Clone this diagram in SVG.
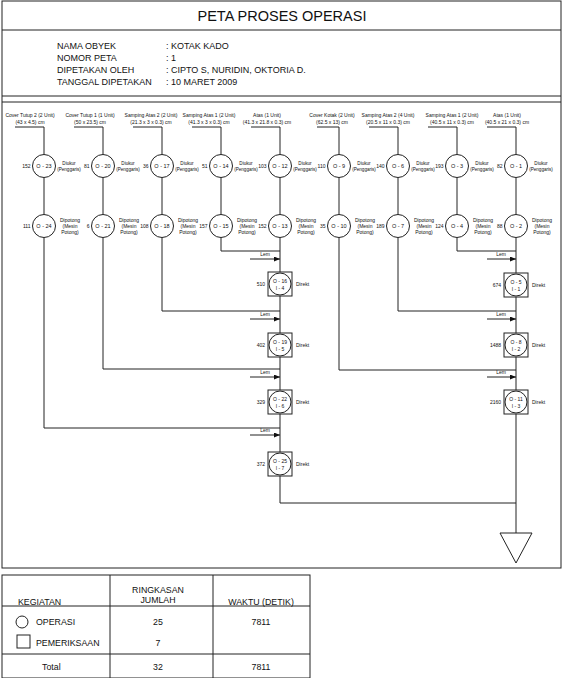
<svg xmlns="http://www.w3.org/2000/svg" width="564" height="678" viewBox="0 0 564 678">
<style>
.ln{stroke:#222;stroke-width:1;fill:none}
.nd{stroke:#222;stroke-width:1;fill:#fff}
text{font-family:"Liberation Sans",Arial,sans-serif;fill:#111}
.s5{font-size:5px}
.s46{font-size:4.6px}
.s55{font-size:5.5px}
.s9{font-size:9px}
.c{text-anchor:middle}
.r{text-anchor:end}
</style>
<defs>
<marker id="ah" markerUnits="userSpaceOnUse" markerWidth="6" markerHeight="5" refX="6" refY="2.5" orient="auto">
<path d="M0,0 L6,2.5 L0,5 z" fill="#111"/>
</marker>
</defs>
<rect x="0" y="0" width="564" height="678" fill="#fff"/>
<g id="frame">
<rect class="ln" x="2" y="1" width="559" height="567"/>
<line class="ln" x1="2" y1="30" x2="561" y2="30"/>
<line class="ln" x1="2" y1="96" x2="561" y2="96"/>
<line class="ln" x1="2" y1="102" x2="561" y2="102"/>
<text x="282" y="21" class="c" style="font-size:14.5px">PETA PROSES OPERASI</text>
<text class="s9" x="57" y="49">NAMA OBYEK</text>
<text class="s9" x="57" y="61">NOMOR PETA</text>
<text class="s9" x="57" y="73">DIPETAKAN OLEH</text>
<text class="s9" x="57" y="85">TANGGAL DIPETAKAN</text>
<text class="s9" x="166" y="49">:  KOTAK KADO</text>
<text class="s9" x="166" y="61">:  1</text>
<text class="s9" x="166" y="73">:  CIPTO S, NURIDIN, OKTORIA D.</text>
<text class="s9" x="166" y="85">:  10 MARET 2009</text>
</g>
<g id="connectors">
<path class="ln" d="M15,127H44V154.5M44,177.5V214.5M44,237.5V428H280"/>
<path class="ln" d="M74,127H103V154.5M103,177.5V214.5M103,237.5V369H280"/>
<path class="ln" d="M133,127H162V154.5M162,177.5V214.5M162,237.5V311H280"/>
<path class="ln" d="M192,127H221V154.5M221,177.5V214.5M221,237.5V251H280"/>
<path class="ln" d="M251,127H280V154.5M280,177.5V214.5M280,237.5V272M280,296V333M280,357V390M280,414V452M280,476V503H516"/>
<path class="ln" d="M317,127H339V154.5M339,177.5V214.5M339,237.5V370H516"/>
<path class="ln" d="M369,127H398V154.5M398,177.5V214.5M398,237.5V311H516"/>
<path class="ln" d="M428,127H457V154.5M457,177.5V214.5M457,237.5V251H516"/>
<path class="ln" d="M487,127H516V154.5M516,177.5V214.5M516,237.5V273M516,297V333M516,357V390M516,414V533"/>
<g class="ln" marker-end="url(#ah)">
<line x1="250" y1="259" x2="280" y2="259"/>
<line x1="250" y1="319" x2="280" y2="319"/>
<line x1="250" y1="377" x2="280" y2="377"/>
<line x1="250" y1="435" x2="280" y2="435"/>
<line x1="487" y1="259" x2="516" y2="259"/>
<line x1="487" y1="319" x2="516" y2="319"/>
<line x1="487" y1="377" x2="516" y2="377"/>
</g>
<g class="s5 c">
<text x="265" y="256">Lem</text>
<text x="265" y="316">Lem</text>
<text x="265" y="374">Lem</text>
<text x="265" y="432">Lem</text>
<text x="501" y="256">Lem</text>
<text x="501" y="316">Lem</text>
<text x="501" y="374">Lem</text>
</g>
</g>
<g id="headers" class="s5 c">
<text x="30" y="117">Cover Tutup 2 (2 Unit)</text><text x="30" y="124">(43 x 4.5) cm</text>
<text x="90" y="117">Cover Tutup 1 (1 Unit)</text><text x="90" y="124">(50 x 23.5) cm</text>
<text x="151" y="117">Samping Atas 2 (2 Unit)</text><text x="151" y="124">(21.3 x 3 x 0.3) cm</text>
<text x="209" y="117">Samping Atas 1 (2 Unit)</text><text x="209" y="124">(41.3 x 3 x 0.3) cm</text>
<text x="267" y="117">Atas (1 Unit)</text><text x="267" y="124">(41.3 x 21.8 x 0.3) cm</text>
<text x="332" y="117">Cover Kotak (2 Unit)</text><text x="332" y="124">(62.5 x 13) cm</text>
<text x="388" y="117">Samping Atas 2 (4 Unit)</text><text x="388" y="124">(20.5 x 11 x 0.3) cm</text>
<text x="452" y="117">Samping Atas 1 (2 Unit)</text><text x="452" y="124">(40.5 x 11 x 0.3) cm</text>
<text x="507" y="117">Atas (1 Unit)</text><text x="507" y="124">(40.5 x 21 x 0.3) cm</text>
</g>
<g id="O-23"><circle class="nd" cx="44" cy="166" r="11.5"/><text class="s55 c" x="44" y="168">O - 23</text><text class="s5 r" x="30.5" y="168">152</text><text class="s46 c" x="69" y="165">Diukur</text><text class="s46 c" x="69" y="171">(Penggaris)</text></g>
<g id="O-20"><circle class="nd" cx="103" cy="166" r="11.5"/><text class="s55 c" x="103" y="168">O - 20</text><text class="s5 r" x="89.5" y="168">81</text><text class="s46 c" x="128" y="165">Diukur</text><text class="s46 c" x="128" y="171">(Penggaris)</text></g>
<g id="O-17"><circle class="nd" cx="162" cy="166" r="11.5"/><text class="s55 c" x="162" y="168">O - 17</text><text class="s5 r" x="148.5" y="168">36</text><text class="s46 c" x="187" y="165">Diukur</text><text class="s46 c" x="187" y="171">(Penggaris)</text></g>
<g id="O-14"><circle class="nd" cx="221" cy="166" r="11.5"/><text class="s55 c" x="221" y="168">O - 14</text><text class="s5 r" x="207.5" y="168">51</text><text class="s46 c" x="246" y="165">Diukur</text><text class="s46 c" x="246" y="171">(Penggaris)</text></g>
<g id="O-12"><circle class="nd" cx="280" cy="166" r="11.5"/><text class="s55 c" x="280" y="168">O - 12</text><text class="s5 r" x="266.5" y="168">103</text><text class="s46 c" x="305" y="165">Diukur</text><text class="s46 c" x="305" y="171">(Penggaris)</text></g>
<g id="O-9"><circle class="nd" cx="339" cy="166" r="11.5"/><text class="s55 c" x="339" y="168">O - 9</text><text class="s5 r" x="325.5" y="168">110</text><text class="s46 c" x="364" y="165">Diukur</text><text class="s46 c" x="364" y="171">(Penggaris)</text></g>
<g id="O-6"><circle class="nd" cx="398" cy="166" r="11.5"/><text class="s55 c" x="398" y="168">O - 6</text><text class="s5 r" x="384.5" y="168">140</text><text class="s46 c" x="423" y="165">Diukur</text><text class="s46 c" x="423" y="171">(Penggaris)</text></g>
<g id="O-3"><circle class="nd" cx="457" cy="166" r="11.5"/><text class="s55 c" x="457" y="168">O - 3</text><text class="s5 r" x="443.5" y="168">193</text><text class="s46 c" x="482" y="165">Diukur</text><text class="s46 c" x="482" y="171">(Penggaris)</text></g>
<g id="O-1"><circle class="nd" cx="516" cy="166" r="11.5"/><text class="s55 c" x="516" y="168">O - 1</text><text class="s5 r" x="502.5" y="168">82</text><text class="s46 c" x="541" y="165">Diukur</text><text class="s46 c" x="541" y="171">(Penggaris)</text></g>
<g id="O-24"><circle class="nd" cx="44" cy="226" r="11.5"/><text class="s55 c" x="44" y="228">O - 24</text><text class="s5 r" x="30.5" y="228">111</text><text class="s5 c" x="70" y="222">Dipotong</text><text class="s5 c" x="70" y="228">(Mesin</text><text class="s5 c" x="70" y="234">Potong)</text></g>
<g id="O-21"><circle class="nd" cx="103" cy="226" r="11.5"/><text class="s55 c" x="103" y="228">O - 21</text><text class="s5 r" x="89.5" y="228">6</text><text class="s5 c" x="129" y="222">Dipotong</text><text class="s5 c" x="129" y="228">(Mesin</text><text class="s5 c" x="129" y="234">Potong)</text></g>
<g id="O-18"><circle class="nd" cx="162" cy="226" r="11.5"/><text class="s55 c" x="162" y="228">O - 18</text><text class="s5 r" x="148.5" y="228">108</text><text class="s5 c" x="188" y="222">Dipotong</text><text class="s5 c" x="188" y="228">(Mesin</text><text class="s5 c" x="188" y="234">Potong)</text></g>
<g id="O-15"><circle class="nd" cx="221" cy="226" r="11.5"/><text class="s55 c" x="221" y="228">O - 15</text><text class="s5 r" x="207.5" y="228">157</text><text class="s5 c" x="247" y="222">Dipotong</text><text class="s5 c" x="247" y="228">(Mesin</text><text class="s5 c" x="247" y="234">Potong)</text></g>
<g id="O-13"><circle class="nd" cx="280" cy="226" r="11.5"/><text class="s55 c" x="280" y="228">O - 13</text><text class="s5 r" x="266.5" y="228">152</text><text class="s5 c" x="306" y="222">Dipotong</text><text class="s5 c" x="306" y="228">(Mesin</text><text class="s5 c" x="306" y="234">Potong)</text></g>
<g id="O-10"><circle class="nd" cx="339" cy="226" r="11.5"/><text class="s55 c" x="339" y="228">O - 10</text><text class="s5 r" x="325.5" y="228">35</text><text class="s5 c" x="365" y="222">Dipotong</text><text class="s5 c" x="365" y="228">(Mesin</text><text class="s5 c" x="365" y="234">Potong)</text></g>
<g id="O-7"><circle class="nd" cx="398" cy="226" r="11.5"/><text class="s55 c" x="398" y="228">O - 7</text><text class="s5 r" x="384.5" y="228">189</text><text class="s5 c" x="424" y="222">Dipotong</text><text class="s5 c" x="424" y="228">(Mesin</text><text class="s5 c" x="424" y="234">Potong)</text></g>
<g id="O-4"><circle class="nd" cx="457" cy="226" r="11.5"/><text class="s55 c" x="457" y="228">O - 4</text><text class="s5 r" x="443.5" y="228">124</text><text class="s5 c" x="483" y="222">Dipotong</text><text class="s5 c" x="483" y="228">(Mesin</text><text class="s5 c" x="483" y="234">Potong)</text></g>
<g id="O-2"><circle class="nd" cx="516" cy="226" r="11.5"/><text class="s55 c" x="516" y="228">O - 2</text><text class="s5 r" x="502.5" y="228">88</text><text class="s5 c" x="542" y="222">Dipotong</text><text class="s5 c" x="542" y="228">(Mesin</text><text class="s5 c" x="542" y="234">Potong)</text></g>
<g id="O-16"><rect class="nd" x="268" y="272" width="24" height="24"/><circle class="nd" cx="280" cy="284" r="11"/><text class="s5 c" x="280" y="283">O - 16</text><text class="s5 c" x="280" y="289.5">I - 4</text><text class="s5 r" x="265" y="286">510</text><text class="s5" x="296" y="286">Direkt</text></g>
<g id="O-19"><rect class="nd" x="268" y="333" width="24" height="24"/><circle class="nd" cx="280" cy="345" r="11"/><text class="s5 c" x="280" y="344">O - 19</text><text class="s5 c" x="280" y="350.5">I - 5</text><text class="s5 r" x="265" y="347">402</text><text class="s5" x="296" y="347">Direkt</text></g>
<g id="O-22"><rect class="nd" x="268" y="390" width="24" height="24"/><circle class="nd" cx="280" cy="402" r="11"/><text class="s5 c" x="280" y="401">O - 22</text><text class="s5 c" x="280" y="407.5">I - 6</text><text class="s5 r" x="265" y="404">329</text><text class="s5" x="296" y="404">Direkt</text></g>
<g id="O-25"><rect class="nd" x="268" y="452" width="24" height="24"/><circle class="nd" cx="280" cy="464" r="11"/><text class="s5 c" x="280" y="463">O - 25</text><text class="s5 c" x="280" y="469.5">I - 7</text><text class="s5 r" x="265" y="466">372</text><text class="s5" x="296" y="466">Direkt</text></g>
<g id="O-5"><rect class="nd" x="504" y="273" width="24" height="24"/><circle class="nd" cx="516" cy="285" r="11"/><text class="s5 c" x="516" y="284">O - 5</text><text class="s5 c" x="516" y="290.5">I - 1</text><text class="s5 r" x="501" y="287">674</text><text class="s5" x="532" y="287">Direkt</text></g>
<g id="O-8"><rect class="nd" x="504" y="333" width="24" height="24"/><circle class="nd" cx="516" cy="345" r="11"/><text class="s5 c" x="516" y="344">O - 8</text><text class="s5 c" x="516" y="350.5">I - 2</text><text class="s5 r" x="501" y="347">1488</text><text class="s5" x="532" y="347">Direkt</text></g>
<g id="O-11"><rect class="nd" x="504" y="390" width="24" height="24"/><circle class="nd" cx="516" cy="402" r="11"/><text class="s5 c" x="516" y="401">O - 11</text><text class="s5 c" x="516" y="407.5">I - 3</text><text class="s5 r" x="501" y="404">2160</text><text class="s5" x="532" y="404">Direkt</text></g>
<g id="storage"><polygon class="nd" points="500,533 532,533 516,563"/></g>
<g id="summary">
<rect class="ln" x="2" y="575" width="308" height="103"/>
<line class="ln" x1="2" y1="606" x2="310" y2="606"/>
<line class="ln" x1="2" y1="654" x2="310" y2="654"/>
<line class="ln" x1="110" y1="575" x2="110" y2="678"/>
<line class="ln" x1="213" y1="575" x2="213" y2="678"/>
<text style="font-size:8.8px" x="18" y="605">KEGIATAN</text>
<text style="font-size:8.8px" class="c" x="158" y="593">RINGKASAN</text>
<text style="font-size:8.8px" class="c" x="158" y="603">JUMLAH</text>
<text style="font-size:8.8px" class="c" x="261" y="605">WAKTU (DETIK)</text>
<circle class="ln" cx="22" cy="622" r="6"/>
<text style="font-size:8.8px" x="36" y="625">OPERASI</text>
<text style="font-size:8.8px" class="c" x="158" y="625">25</text>
<text style="font-size:8.8px" class="c" x="261" y="625">7811</text>
<rect class="ln" x="17" y="635" width="13" height="13"/>
<text style="font-size:8.8px" x="36" y="646">PEMERIKSAAN</text>
<text style="font-size:8.8px" class="c" x="158" y="646">7</text>
<text style="font-size:8.8px" x="42" y="670">Total</text>
<text style="font-size:8.8px" class="c" x="158" y="670">32</text>
<text style="font-size:8.8px" class="c" x="261" y="670">7811</text>
</g>
</svg>
